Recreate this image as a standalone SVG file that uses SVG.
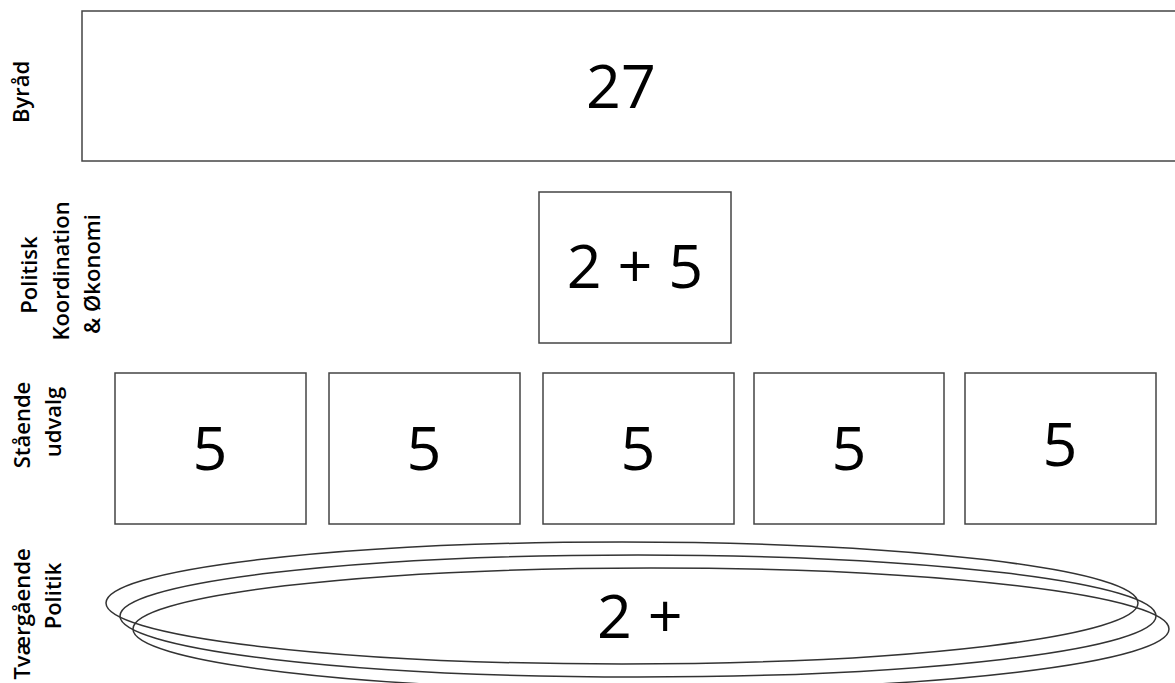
<svg xmlns="http://www.w3.org/2000/svg" width="1175" height="683" viewBox="0 0 1175 683">
<style>
.box{fill:#fff;stroke:#444;stroke-width:1.5}
.ell{fill:none;stroke:#333;stroke-width:1.5}
.num{font-family:"Open Sans","Noto Sans",sans-serif;font-size:61px;font-weight:500;fill:#000;text-anchor:middle}
.lbl{font-family:"Open Sans","Noto Sans",sans-serif;font-size:22px;font-weight:600;fill:#000;text-anchor:middle}
</style>
<rect width="1175" height="683" fill="#fff"/>
<g id="labels">
<text class="lbl" transform="translate(29,92) rotate(-90)">Byråd</text>
<text class="lbl" transform="translate(37,275) rotate(-90)">Politisk</text>
<text class="lbl" transform="translate(69,271) rotate(-90)">Koordination</text>
<text class="lbl" transform="translate(100,274) rotate(-90)">&amp; Økonomi</text>
<text class="lbl" transform="translate(30,425) rotate(-90)">Stående</text>
<text class="lbl" transform="translate(61,422) rotate(-90)">udvalg</text>
<text class="lbl" transform="translate(30,614) rotate(-90)">Tværgående</text>
<text class="lbl" transform="translate(61,596) rotate(-90)">Politik</text>
</g>
<g id="byraad">
<rect class="box" x="82" y="11" width="1120" height="150"/>
<text class="num" x="621" y="108">27</text>
</g>
<g id="koordination">
<rect class="box" x="539" y="192" width="192" height="151"/>
<text class="num" x="635" y="288">2 + 5</text>
</g>
<g id="udvalg1">
<rect class="box" x="115" y="373" width="191" height="151"/>
<text class="num" x="210" y="470">5</text>
</g>
<g id="udvalg2">
<rect class="box" x="329" y="373" width="191" height="151"/>
<text class="num" x="424" y="470">5</text>
</g>
<g id="udvalg3">
<rect class="box" x="543" y="373" width="191" height="151"/>
<text class="num" x="638" y="470">5</text>
</g>
<g id="udvalg4">
<rect class="box" x="754" y="373" width="190" height="151"/>
<text class="num" x="849" y="470">5</text>
</g>
<g id="udvalg5">
<rect class="box" x="965" y="373" width="191" height="151"/>
<text class="num" x="1060" y="466">5</text>
</g>
<g id="tvaergaaende">
<ellipse class="ell" cx="622" cy="603" rx="516" ry="61"/>
<ellipse class="ell" cx="638" cy="616" rx="518" ry="61"/>
<ellipse class="ell" cx="651" cy="629" rx="518" ry="61"/>
<text class="num" x="597" y="638" style="text-anchor:start">2 +</text>
</g>
<g id="connectors"></g>
</svg>
